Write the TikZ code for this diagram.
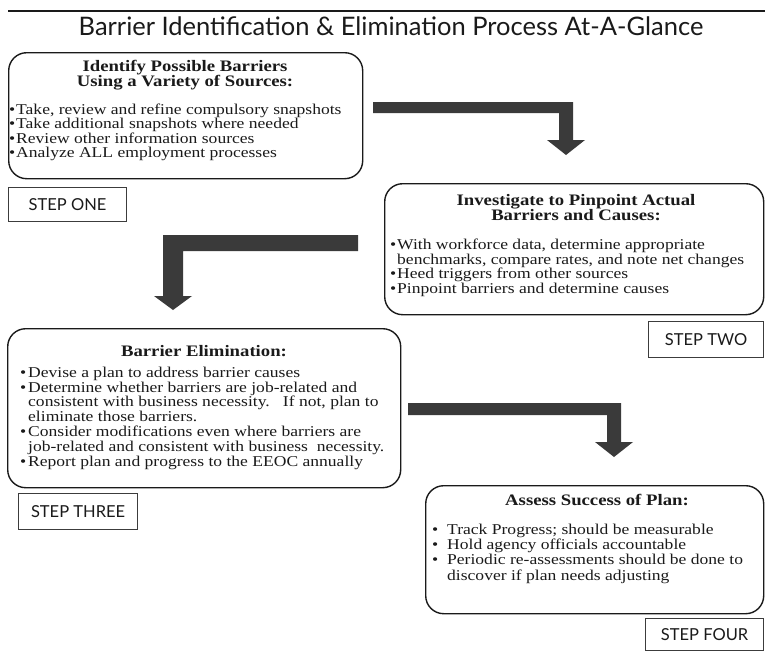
\documentclass[tikz,border=0pt]{standalone}
\usepackage{fontspec}
\setmainfont{Liberation Serif}[FakeStretch=1.17]
\newfontfamily\gill{Lato}
\newcommand{\bu}{\makebox[7pt][l]{\textbullet}}
\newcommand{\bub}{\makebox[8pt][l]{\textbullet}}
\newcommand{\bud}{\makebox[15pt][l]{\textbullet}}
\definecolor{arrowgray}{HTML}{3A3A3A}
\definecolor{inkc}{HTML}{1A1A1A}
\begin{document}
\begin{tikzpicture}[x=1pt,y=-1pt,
  panel/.style={draw=inkc, line width=1.4pt, rounded corners=18pt, anchor=north west, inner sep=0pt},
  stepbox/.style={draw=inkc!85, line width=1.1pt, anchor=north west, inner sep=0pt,
     font=\gill\fontsize{16.5}{17}\selectfont, text=inkc},
  head/.style={anchor=mid, inner sep=0pt, font=\fontsize{16}{16}\selectfont\bfseries, text=inkc},
  body/.style={anchor=mid west, inner sep=0pt, font=\fontsize{15}{15}\selectfont, text=inkc},
  bigarrow/.style={fill=arrowgray, draw=none}]
\useasboundingbox (0,0) rectangle (765,651);
\fill[white] (0,0) rectangle (765,651);

% title
\coordinate (rl) at (8,11);
\coordinate (rr) at (765,11);
\draw[line width=2pt, inkc] (rl) -- (rr);
\node[anchor=mid, inner sep=0pt, font=\gill\fontsize{25.5}{26}\selectfont, text=inkc] (title) at (391,33)
  {Barrier Identification \& Elimination Process At-A-Glance};

% panels
\node[panel, minimum width=354pt, minimum height=126pt] (p1) at (8,52) {};
\node[panel, minimum width=379pt, minimum height=131pt] (p2) at (384,183) {};
\node[panel, minimum width=393pt, minimum height=159pt] (p3) at (7,328) {};
\node[panel, minimum width=338pt, minimum height=128pt] (p4) at (425,485) {};

% step boxes
\node[stepbox, minimum width=118pt, minimum height=34pt] (s1) at (8,187) {STEP ONE};
\node[stepbox, minimum width=115pt, minimum height=36pt] (s2) at (648,321) {STEP TWO};
\node[stepbox, minimum width=119pt, minimum height=36pt] (s3) at (18,493) {STEP THREE};
\node[stepbox, minimum width=118pt, minimum height=32pt] (s4) at (645,618) {STEP FOUR};

% headings
\node[head] (h1a) at (185,69) {Identify Possible Barriers};
\node[head] (h1b) at (185,84) {Using a Variety of Sources:};
\node[head] (h2a) at (576,203) {Investigate to Pinpoint Actual};
\node[head] (h2b) at (576,218) {Barriers and Causes:};
\node[head] (h3) at (204,354) {Barrier Elimination:};
\node[head] (h4) at (597,503) {Assess Success of Plan:};

% box 1 body
\foreach \n/\x/\y/\t in {
  1/9/112/{\bu Take, review and refine compulsory snapshots},
  2/9/126.4/{\bu Take additional snapshots where needed},
  3/9/140.8/{\bu Review other information sources},
  4/9/155.2/{\bu Analyze ALL employment processes}}
  \node[body] (a\n) at (\x,\y) {\t};

% box 2 body
\foreach \n/\x/\y/\t in {
  1/390/247/{\bu With workforce data, determine appropriate},
  2/397/261.7/{benchmarks, compare rates, and note net changes},
  3/390/276.4/{\bu Heed triggers from other sources},
  4/390/291.1/{\bu Pinpoint barriers and determine causes}}
  \node[body] (b\n) at (\x,\y) {\t};

% box 3 body
\foreach \n/\x/\y/\t in {
  1/20/375/{\bub Devise a plan to address barrier causes},
  2/20/389.8/{\bub Determine whether barriers are job-related and},
  3/28/404.6/{consistent with business necessity.\ \ \ If not, plan to},
  4/28/419.4/{eliminate those barriers.},
  5/20/434.2/{\bub Consider modifications even where barriers are},
  6/28/449/{job-related and consistent with business\ \ necessity.},
  7/20/463.8/{\bub Report plan and progress to the EEOC annually}}
  \node[body] (c\n) at (\x,\y) {\t};

% box 4 body
\foreach \n/\x/\y/\t in {
  1/432/532/{\bud Track Progress; should be measurable},
  2/432/547.3/{\bud Hold agency officials accountable},
  3/432/562.6/{\bud Periodic re-assessments should be done to},
  4/447/577.9/{discover if plan needs adjusting}}
  \node[body] (d\n) at (\x,\y) {\t};

% big elbow arrows
\fill[bigarrow] (373,102) -- (573,102) -- (573,140) -- (585,140) -- (566,155)
  -- (547,140) -- (559,140) -- (559,113) -- (373,113) -- cycle;
\fill[bigarrow] (358,235) -- (163,235) -- (163,296) -- (154,296) -- (173,310)
  -- (192,296) -- (183,296) -- (183,251) -- (358,251) -- cycle;
\fill[bigarrow] (408,403) -- (621,403) -- (621,442) -- (633,442) -- (614,457)
  -- (595,442) -- (607,442) -- (607,415) -- (408,415) -- cycle;
\end{tikzpicture}
\end{document}
